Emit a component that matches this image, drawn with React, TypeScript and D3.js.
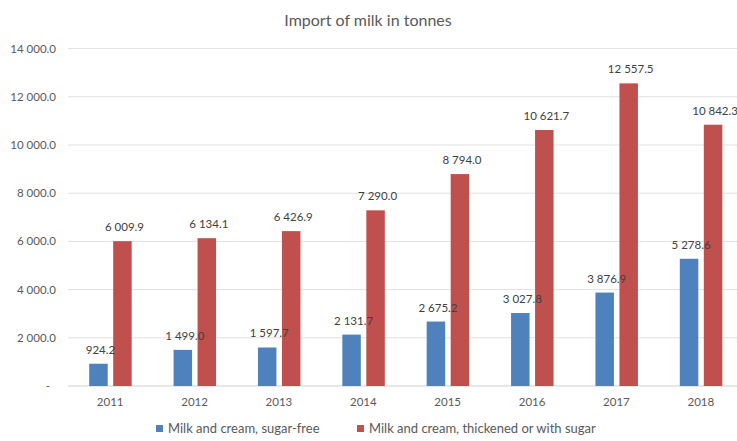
import React from "react";
import * as d3 from "d3";

const years = ["2011", "2012", "2013", "2014", "2015", "2016", "2017", "2018"];
const sugarFree = [924.2, 1499.0, 1597.7, 2131.7, 2675.2, 3027.8, 3876.9, 5278.6];
const withSugar = [6009.9, 6134.1, 6426.9, 7290.0, 8794.0, 10621.7, 12557.5, 10842.3];
const yTicks = [0, 2000, 4000, 6000, 8000, 10000, 12000, 14000];
const seriesNames = ["Milk and cream, sugar-free", "Milk and cream, thickened or with sugar"];
const colors = ["#4F81BD", "#C0504D"];

const fmt = (v: number) => {
  if (v === 0) return "-";
  const [i, d] = v.toFixed(1).split(".");
  return i.replace(/\B(?=(\d{3})+(?!\d))/g, " ") + "." + d;
};

export default function App() {
  const W = 737, H = 441;
  const left = 68, right = 743, top = 48.6, bottom = 386;
  const x = d3.scaleBand<string>().domain(years).range([left, right]);
  const y = d3.scaleLinear().domain([0, 14000]).range([bottom, top]);
  const font = "Lato, 'Open Sans', sans-serif";
  return (
    <svg width={W} height={H} style={{ position: "absolute", left: 0, top: 0, background: "#fff" }} fontFamily={font}>
      <rect width={W} height={H} fill="#fff" />
      <text x={368} y={26} textAnchor="middle" fontSize={16} fill="#595959">Import of milk in tonnes</text>
      {yTicks.map((t) => (
        <g key={t}>
          <line x1={left} x2={W} y1={y(t)} y2={y(t)} stroke={t === 0 ? "#D0D0D0" : "#E0E0E0"} strokeWidth={1} />
          <text x={t === 0 ? 50 : 56} y={y(t) + 4} textAnchor="end" fontSize={11.5} fill="#595959">{fmt(t)}</text>
        </g>
      ))}
      {years.map((yr, i) => {
        const c = (x(yr) as number) + x.bandwidth() / 2;
        const b1 = c - 21, b2 = c + 3, bw = 18.5;
        return (
          <g key={yr}>
            <rect x={b1} y={y(sugarFree[i])} width={bw} height={bottom - y(sugarFree[i])} fill={colors[0]} />
            <rect x={b2} y={y(withSugar[i])} width={bw} height={bottom - y(withSugar[i])} fill={colors[1]} />
            <text x={b1 + bw / 2 + 2} y={y(sugarFree[i]) - 10} textAnchor="middle" fontSize={11.5} fill="#404040">{fmt(sugarFree[i])}</text>
            <text x={b2 + bw / 2 + 2} y={y(withSugar[i]) - 10} textAnchor="middle" fontSize={11.5} fill="#404040">{fmt(withSugar[i])}</text>
            <text x={c} y={406} textAnchor="middle" fontSize={11.5} fill="#595959">{yr}</text>
          </g>
        );
      })}
      <g fontSize={13} fill="#595959">
        <rect x={156} y={425} width={7} height={7} fill={colors[0]} />
        <text x={168} y={433}>{seriesNames[0]}</text>
        <rect x={357} y={425} width={7} height={7} fill={colors[1]} />
        <text x={369} y={433}>{seriesNames[1]}</text>
      </g>
    </svg>
  );
}
